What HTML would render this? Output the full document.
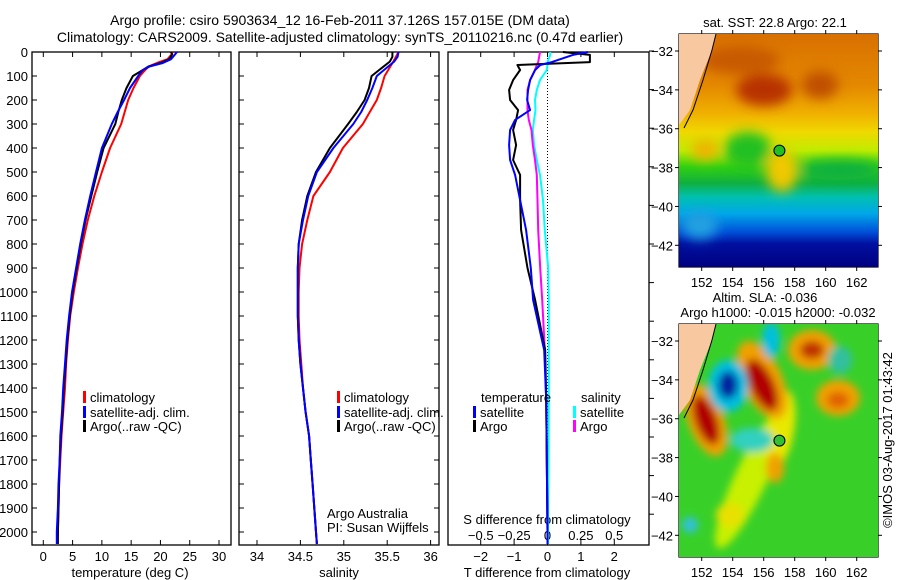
<!DOCTYPE html>
<html><head><meta charset="utf-8">
<style>
html,body{margin:0;padding:0;background:#fff;}
svg{display:block;font-family:"Liberation Sans",sans-serif;}
text{fill:#000;}
</style></head>
<body>
<svg id="chart" width="900" height="580" viewBox="0 0 900 580" xmlns="http://www.w3.org/2000/svg">
<defs>
<filter id="blur6" x="-20%" y="-20%" width="140%" height="140%"><feGaussianBlur stdDeviation="6"/></filter>
<filter id="blur4" x="-20%" y="-20%" width="140%" height="140%"><feGaussianBlur stdDeviation="4"/></filter>
<clipPath id="clipTop"><rect x="679" y="34" width="199" height="233"/></clipPath>
<clipPath id="clipBot"><rect x="679" y="324" width="199" height="233"/></clipPath>
<linearGradient id="sstGrad" x1="0" y1="0" x2="0" y2="1">
<stop offset="0" stop-color="#d87000"/><stop offset="0.22" stop-color="#e48800"/>
<stop offset="0.34" stop-color="#f0b000"/><stop offset="0.42" stop-color="#f0d800"/>
<stop offset="0.5" stop-color="#c0ec00"/><stop offset="0.57" stop-color="#30d010"/>
<stop offset="0.64" stop-color="#10b040"/><stop offset="0.7" stop-color="#00c0b0"/>
<stop offset="0.77" stop-color="#00a8e8"/><stop offset="0.85" stop-color="#0050d8"/>
<stop offset="0.9" stop-color="#0010a0"/><stop offset="1" stop-color="#000080"/>
</linearGradient>
</defs>
<g id="texts"></g>
<g id="axes"></g>
<g id="series"></g>
</svg>
<script>
// ---------- data ----------
const tDepth = [0,10,30,46,60,75,100,150,200,250,300,400,500,600,700,800,900,1000,1100,1200,1300,1400,1500,1600,1700,1800,1900,2000,2050];
const tClim  = [22.1,21.9,21.2,19.4,18.0,17.4,16.5,15.4,14.5,13.9,13.3,11.4,10.0,8.7,7.6,6.7,5.9,5.2,4.6,4.2,3.9,3.7,3.4,3.1,2.9,2.7,2.6,2.5,2.4];
const tSat   = [22.8,22.5,21.8,20.4,18.2,17.0,16.2,14.8,13.8,12.7,11.7,10.0,9.0,8.0,7.1,6.3,5.6,4.9,4.4,4.0,3.7,3.4,3.2,2.9,2.8,2.6,2.5,2.3,2.3];
const tArgo  = [21.8,22.0,21.5,20.0,18.0,17.0,15.3,14.2,13.4,12.8,12.3,10.3,9.2,8.2,7.2,6.4,5.7,5.0,4.5,4.1,3.8,3.5,3.3,3.0,2.8,2.7,2.6,2.5,2.5];
const sDepth = [0,20,40,100,150,200,250,300,400,500,600,700,800,900,1000,1100,1200,1300,1400,1500,1600,1700,1800,1900,2000,2050];
const sClim  = [35.63,35.6,35.57,35.47,35.43,35.38,35.3,35.22,34.99,34.84,34.65,34.58,34.52,34.49,34.48,34.48,34.49,34.51,34.53,34.56,34.6,34.62,34.64,34.66,34.68,34.69];
const sSat   = [35.63,35.62,35.58,35.38,35.33,35.27,35.2,35.11,34.88,34.69,34.59,34.53,34.48,34.47,34.47,34.47,34.48,34.5,34.53,34.56,34.6,34.62,34.64,34.66,34.68,34.69];
const sArgo  = [35.56,35.56,35.53,35.32,35.29,35.24,35.15,35.05,34.84,34.68,34.58,34.52,34.48,34.47,34.47,34.47,34.48,34.5,34.53,34.56,34.6,34.62,34.64,34.66,34.68,34.69];
const dDepth = [0,12,42,54,75,117,158,200,242,283,325,388,450,512,617,742,900,1033,1242,1450,1700,2000,2050];
const dTArgo = [0.46,1.27,1.27,-0.9,-0.82,-1.03,-1.15,-1.12,-0.88,-0.94,-1.03,-0.94,-1.03,-0.82,-0.82,-0.79,-0.6,-0.37,-0.07,-0.04,-0.02,0,0];
const dTSat  = [1.21,0.76,0.13,-0.22,-0.37,-0.52,-0.58,-0.61,-0.52,-0.97,-1.12,-1.15,-1.12,-0.97,-0.82,-0.64,-0.5,-0.43,-0.1,-0.04,-0.02,0,0];
const dSArgo = [-0.056,-0.06,-0.07,-0.08,-0.094,-0.13,-0.15,-0.15,-0.15,-0.14,-0.12,-0.11,-0.094,-0.08,-0.075,-0.07,-0.055,-0.04,-0.02,-0.01,-0.005,0,0];
const dSSat  = [0.02,0.02,0,0,-0.005,-0.056,-0.08,-0.094,-0.09,-0.1,-0.11,-0.1,-0.08,-0.056,-0.034,-0.02,0.005,0.01,0.01,0.01,0.008,0.004,0.004];
const depthTicks = [0,100,200,300,400,500,600,700,800,900,1000,1100,1200,1300,1400,1500,1600,1700,1800,1900,2000];
const tempTicks = [0,5,10,15,20,25,30];
const salTicks = [34,34.5,35,35.5,36];
const tdTicks = [-2,-1,0,1,2];
const sdTicks = [-0.5,-0.25,0,0.25,0.5];
const sdTickLabels = ["-0.5","-0.25","0","0.25","0.5"];
const lonTicks = [152,154,156,158,160,162];
const latTicks = [-32,-34,-36,-38,-40,-42];

// ---------- scales ----------
const NS="http://www.w3.org/2000/svg";
const yD = d => 52 + d*0.24;
const xT = v => 43.3 + v*5.857;
const xS = v => 257 + (v-34)*86.8;
const xTd = v => 547.5 + v*33.4;
const xSd = v => 547.5 + v*133.5;
const xLon = v => 701.7 + (v-152)*15.5;
const yLat = (v,off) => off + 51 + (-32 - v)*19.43;

function el(tag, attrs, parent){const e=document.createElementNS(NS,tag);for(const k in attrs)e.setAttribute(k,attrs[k]);parent.appendChild(e);return e;}
function txt(s,x,y,anchor,size,parent){const t=el('text',{x:x,y:y,'text-anchor':anchor||'start','font-size':size||13},parent);t.textContent=s;return t;}
const T=document.getElementById('texts'), A=document.getElementById('axes'), S=document.getElementById('series');

let t;
t=txt("Argo profile: csiro 5903634_12 16-Feb-2011 37.126S 157.015E (DM data)",340,25,'middle',14,T);


t=txt("Climatology: CARS2009. Satellite-adjusted climatology: synTS_20110216.nc (0.47d earlier)",340,42,'middle',14,T);



const panels=[{x0:32,x1:231,name:'temperature-panel'},{x0:239,x1:439,name:'salinity-panel'},{x0:448,x1:649,name:'difference-panel'}];
panels.forEach(p=>{
  const r=el('rect',{x:p.x0,y:52,width:p.x1-p.x0,height:493,fill:'none',stroke:'#000','stroke-width':1.3},A);
  
  
});
depthTicks.forEach(d=>{
  const y=yD(d);
  el('line',{x1:32,x2:37,y1:y,y2:y,stroke:'#000'},A);
  el('line',{x1:439,x2:434,y1:y,y2:y,stroke:'#000'},A);
  el('line',{x1:239,x2:244,y1:y,y2:y,stroke:'#000'},A);
  const l=txt(String(d),28,y+5,'end',13,A);
  
  
});
for(let y=51;y<=545;y+=38.6){el('line',{x1:649,x2:654,y1:y,y2:y,stroke:'#000'},A);}
tempTicks.forEach(v=>{const x=xT(v);el('line',{x1:x,x2:x,y1:545,y2:540,stroke:'#000'},A);el('line',{x1:x,x2:x,y1:52,y2:57,stroke:'#000'},A);
  const l=txt(String(v),x,561,'middle',13,A);});
t=txt("temperature (deg C)",130,577,'middle',13,A);
salTicks.forEach(v=>{const x=xS(v);el('line',{x1:x,x2:x,y1:545,y2:540,stroke:'#000'},A);el('line',{x1:x,x2:x,y1:52,y2:57,stroke:'#000'},A);
  const l=txt(String(v),x,561,'middle',13,A);});
t=txt("salinity",339,577,'middle',13,A);
tdTicks.forEach(v=>{const x=xTd(v);el('line',{x1:x,x2:x,y1:545,y2:540,stroke:'#000'},A);el('line',{x1:x,x2:x,y1:52,y2:57,stroke:'#000'},A);
  const l=txt(String(v).replace('-','\u2212'),x,561,'middle',13,A);});
t=txt("T difference from climatology",547,577,'middle',13,A);
sdTicks.forEach((v,i)=>{const x=xSd(v);
  const l=txt(sdTickLabels[i].replace('-','\u2212'),x,540,'middle',13,A);});
t=txt("S difference from climatology",547,524,'middle',13,A);
el('line',{x1:xTd(0),x2:xTd(0),y1:52,y2:545,stroke:'#000','stroke-dasharray':'1,2','stroke-width':1},A);

function line(xs,ds,xf,color,name,w){
  const pts=xs.map((v,i)=>xf(v).toFixed(1)+','+yD(ds[i]).toFixed(1)).join(' ');
  const p=el('polyline',{points:pts,fill:'none',stroke:color,'stroke-width':w||2,'stroke-linejoin':'round'},S);
  
  
}
line(tClim,tDepth,xT,'#f00','temperature-climatology-line');
line(tArgo,tDepth,xT,'#000','temperature-argo-line');
line(tSat,tDepth,xT,'#00f','temperature-satellite-line');
line(sClim,sDepth,xS,'#f00','salinity-climatology-line');
line(sArgo,sDepth,xS,'#000','salinity-argo-line');
line(sSat,sDepth,xS,'#00f','salinity-satellite-line');
line(dSSat,dDepth,xSd,'#0ff','s-diff-satellite-line');
line(dSArgo,dDepth,xSd,'#f0f','s-diff-argo-line');
line(dTArgo,dDepth,xTd,'#000','t-diff-argo-line');
line(dTSat,dDepth,xTd,'#00f','t-diff-satellite-line');

function legend(x,y,color,label){
  el('rect',{x:x,y:y-11,width:3,height:12,fill:color},S);
  const l=txt(label,x+7,y,'start',13,S);
  
  
}
legend(83,402,'#f00','climatology');legend(83,417,'#00f','satellite-adj. clim.');legend(83,431,'#000','Argo(..raw -QC)');
legend(337,402,'#f00','climatology');legend(337,417,'#00f','satellite-adj. clim.');legend(337,431,'#000','Argo(..raw -QC)');
t=txt("temperature",481,402,'start',13,S);
t=txt("salinity",581,402,'start',13,S);
legend(473,417,'#00f','satellite');legend(473,431,'#000','Argo');
legend(573,417,'#0ff','satellite');legend(573,431,'#f0f','Argo');
t=txt("Argo Australia",327,518,'start',13,S);
t=txt("PI: Susan Wijffels",327,532,'start',13,S);

// ---------- maps ----------
function mapAxes(off,name){
  const r=el('rect',{x:679,y:34+off,width:199,height:233,fill:'none',stroke:'#000','stroke-width':1.2},A);
  
  
  lonTicks.forEach(v=>{const x=xLon(v);el('line',{x1:x,x2:x,y1:34+off,y2:30+off,stroke:'#000'},A);el('line',{x1:x,x2:x,y1:267+off,y2:271+off,stroke:'#000'},A);
    const l=txt(String(v),x,287+off,'middle',13,A);});
  latTicks.forEach(v=>{const y=yLat(v,off);el('line',{x1:679,x2:675,y1:y,y2:y,stroke:'#000'},A);el('line',{x1:878,x2:882,y1:y,y2:y,stroke:'#000'},A);
    const l=txt(String(v).replace('-','\u2212'),673,y+5,'end',13,A);});
}
const gTop=el('g',{'clip-path':'url(#clipTop)'},S);


el('rect',{x:679,y:34,width:199,height:233,fill:'url(#sstGrad)'},gTop);
const gTb=el('g',{filter:'url(#blur6)'},gTop);
el('ellipse',{cx:764,cy:90,rx:28,ry:16,fill:'#b83000'},gTb);
el('ellipse',{cx:820,cy:85,rx:18,ry:14,fill:'#c05000'},gTb);
el('ellipse',{cx:740,cy:60,rx:40,ry:14,fill:'#c85a00'},gTb);
el('ellipse',{cx:748,cy:150,rx:24,ry:18,fill:'#20c020'},gTb);
el('ellipse',{cx:705,cy:150,rx:14,ry:10,fill:'#f0b000'},gTb);
el('ellipse',{cx:782,cy:170,rx:16,ry:22,fill:'#f0c800'},gTb);
el('ellipse',{cx:840,cy:170,rx:40,ry:10,fill:'#10b040'},gTb);
el('ellipse',{cx:700,cy:225,rx:18,ry:14,fill:'#20a0e0'},gTb);
el('polygon',{points:'679,34 716,34 712,50 700,80 690,110 679,125',fill:'#f8c8a0'},gTop);
el('polyline',{points:'716,34 712,50 703,80 693,110 684,128',fill:'none',stroke:'#000','stroke-width':1},gTop);
el('circle',{cx:xLon(157.015),cy:yLat(-37.126,0),r:5.5,fill:'#20c020',stroke:'#000','stroke-width':1},gTop);
mapAxes(0,'sst-map-frame');
t=txt("sat. SST: 22.8 Argo: 22.1",775,27,'middle',13,T);

const gBot=el('g',{'clip-path':'url(#clipBot)'},S);


el('rect',{x:679,y:324,width:199,height:233,fill:'#38d028'},gBot);
const gBb=el('g',{filter:'url(#blur4)'},gBot);
el('ellipse',{cx:750,cy:480,rx:16,ry:75,fill:'#c8f000',transform:'rotate(25 750 480)'},gBb);
el('ellipse',{cx:780,cy:430,rx:14,ry:40,fill:'#e8e800',transform:'rotate(10 780 430)'},gBb);
el('ellipse',{cx:706,cy:420,rx:18,ry:38,fill:'#f0a000',transform:'rotate(-20 706 420)'},gBb);
el('ellipse',{cx:706,cy:420,rx:11,ry:26,fill:'#b00000',transform:'rotate(-20 706 420)'},gBb);
el('ellipse',{cx:762,cy:380,rx:20,ry:42,fill:'#f0a000',transform:'rotate(-25 762 380)'},gBb);
el('ellipse',{cx:762,cy:385,rx:12,ry:28,fill:'#b00000',transform:'rotate(-25 762 385)'},gBb);
el('ellipse',{cx:728,cy:386,rx:20,ry:26,fill:'#00c0e0'},gBb);
el('ellipse',{cx:728,cy:385,rx:10,ry:14,fill:'#0020a0'},gBb);
el('ellipse',{cx:812,cy:350,rx:24,ry:20,fill:'#f0a000'},gBb);
el('ellipse',{cx:812,cy:350,rx:12,ry:9,fill:'#c03000'},gBb);
el('ellipse',{cx:838,cy:398,rx:22,ry:18,fill:'#f0a000'},gBb);
el('ellipse',{cx:838,cy:400,rx:11,ry:8,fill:'#e06000'},gBb);
el('ellipse',{cx:840,cy:360,rx:12,ry:14,fill:'#30c0a0'},gBb);
el('ellipse',{cx:771,cy:340,rx:9,ry:18,fill:'#00c0e0'},gBb);
el('ellipse',{cx:752,cy:440,rx:22,ry:12,fill:'#30d0c0'},gBb);
el('ellipse',{cx:775,cy:468,rx:9,ry:15,fill:'#f0a000'},gBb);
el('ellipse',{cx:730,cy:515,rx:14,ry:12,fill:'#e8e000'},gBb);
el('ellipse',{cx:690,cy:525,rx:8,ry:8,fill:'#30c0e0'},gBb);
el('polygon',{points:'679,324 716,324 712,340 700,370 690,400 679,415',fill:'#f8c8a0'},gBot);
el('polyline',{points:'716,324 712,340 703,370 693,400 684,418',fill:'none',stroke:'#000','stroke-width':1},gBot);
el('circle',{cx:xLon(157.015),cy:yLat(-37.126,290),r:5.5,fill:'#30c030',stroke:'#000','stroke-width':1},gBot);
mapAxes(290,'sla-map-frame');
t=txt("Altim. SLA: -0.036",765,302,'middle',13,T);
t=txt("Argo h1000: -0.015 h2000: -0.032",778,317,'middle',13,T);
t=txt("\u00a9IMOS 03-Aug-2017 01:43:42",0,0,'middle',13,T);
t.setAttribute('transform','translate(892,440) rotate(-90)');


</script>
</body></html>
